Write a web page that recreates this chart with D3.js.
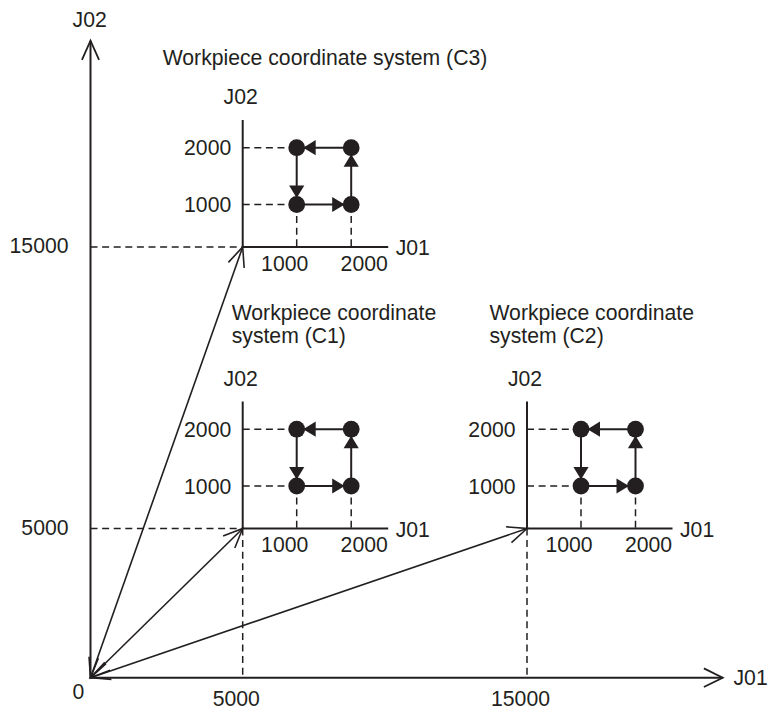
<!DOCTYPE html>
<html>
<head>
<meta charset="utf-8">
<script src="https://cdn.jsdelivr.net/npm/d3@7"></script>
<style>
  html, body { margin: 0; padding: 0; background: #fff; }
  svg { display: block; }
  text { font-family: "Liberation Sans", Arial, Helvetica, sans-serif; fill: #231f20; }
</style>
</head>
<body>
<svg id="chart" width="770" height="709"></svg>
<script>
// ---------- data ----------
const mainAxisNames = ["J01", "J02"];
const mainTickValues = [5000, 15000];
const systemNames = ["C1", "C2", "C3"];
const systemOriginJ01 = [5000, 15000, 5000];
const systemOriginJ02 = [5000, 5000, 15000];
const systemTitles = [
  ["Workpiece coordinate", "system (C1)"],
  ["Workpiece coordinate", "system (C2)"],
  ["Workpiece coordinate system (C3)"]
];
const localTickValues = [1000, 2000];
// motion path inside each workpiece system (closed loop)
const pathJ01 = [2000, 2000, 1000, 1000];
const pathJ02 = [1000, 2000, 2000, 1000];

// ---------- layout ----------
const ink = "#231f20";
const fontSize = 21.2;
const titleOffsets = [ { dx: -11, dy: -208.5 }, { dx: -37.5, dy: -208.5 }, { dx: -80, dy: -181.7 } ];

const svg = d3.select("#chart");
const x = d3.scaleLinear().domain([0, 5000, 15000]).range([90.5, 242.7, 527]);
const y = d3.scaleLinear().domain([0, 5000, 15000]).range([677.7, 528.5, 247]);
const lx = d3.scaleLinear().domain([0, 1000, 2000]).range([0, 54, 108.5]);
const ly = d3.scaleLinear().domain([0, 1000, 2000]).range([0, -42.5, -99.3]);

const ox = x(0), oy = y(0);

function chevron(g, x1, y1, x2, y2, len, half, width) {
  const a = Math.atan2(y1 - y2, x1 - x2);
  const pts = [a - half, a + half].map(t => [x2 + len * Math.cos(t), y2 + len * Math.sin(t)]);
  g.append("path")
    .attr("d", `M${pts[0][0]},${pts[0][1]}L${x2},${y2}L${pts[1][0]},${pts[1][1]}`)
    .attr("fill", "none").attr("stroke", ink).attr("stroke-width", width)
    .attr("stroke-linejoin", "miter");
}

const dash = "7,4.6";

// ---------- main dashed guides ----------
const guides = svg.append("g").attr("stroke", ink).attr("stroke-width", 1.5).attr("stroke-dasharray", dash);
systemNames.forEach((n, i) => {
  const px = x(systemOriginJ01[i]), py = y(systemOriginJ02[i]);
  if (systemOriginJ01[i] === 5000) {
    guides.append("line").attr("x1", ox).attr("y1", py).attr("x2", px).attr("y2", py);
  }
  if (systemOriginJ02[i] === 5000) {
    guides.append("line").attr("x1", px).attr("y1", py).attr("x2", px).attr("y2", oy);
  }
});

// ---------- main axes ----------
const axes = svg.append("g");
axes.append("line").attr("x1", ox).attr("y1", oy).attr("x2", ox + 632.2).attr("y2", oy)
  .attr("stroke", ink).attr("stroke-width", 2);
axes.append("line").attr("x1", ox).attr("y1", oy).attr("x2", ox).attr("y2", 40.7)
  .attr("stroke", ink).attr("stroke-width", 2);
chevron(axes, ox, oy, ox + 632.2, oy, 21, 0.46, 1.8);
chevron(axes, ox, oy, ox, 40.7, 21, 0.42, 1.8);

axes.append("text").attr("x", ox + 643).attr("y", oy + 7.5)
  .attr("font-size", fontSize).text(mainAxisNames[0]);
axes.append("text").attr("x", ox - 0.8).attr("y", 27)
  .attr("text-anchor", "middle").attr("font-size", fontSize).text(mainAxisNames[1]);

axes.append("text").attr("x", x(0) - 12).attr("y", oy + 21.5)
  .attr("text-anchor", "middle").attr("font-size", fontSize).text("0");
mainTickValues.forEach(v => {
  axes.append("text").attr("x", x(v) - 6.5).attr("y", oy + 28.5)
    .attr("text-anchor", "middle").attr("font-size", fontSize).text(v);
  axes.append("text").attr("x", 68.5).attr("y", y(v) + 6)
    .attr("text-anchor", "end").attr("font-size", fontSize).text(v);
});

// ---------- vectors from origin ----------
const vecs = svg.append("g");
systemNames.forEach((n, i) => {
  const px = x(systemOriginJ01[i]), py = y(systemOriginJ02[i]);
  vecs.append("line").attr("x1", ox).attr("y1", oy).attr("x2", px).attr("y2", py)
    .attr("stroke", ink).attr("stroke-width", 1.6);
  chevron(vecs, ox, oy, px, py, 21, 0.41, 1.6);
  chevron(vecs, px, py, ox, oy, 21, 0.41, 1.6);
});

// ---------- workpiece systems ----------
systemNames.forEach((n, i) => {
  const px = x(systemOriginJ01[i]), py = y(systemOriginJ02[i]);
  const g = svg.append("g").attr("transform", `translate(${px},${py})`);

  const dg = g.append("g").attr("stroke", ink).attr("stroke-width", 1.5).attr("stroke-dasharray", dash);
  localTickValues.forEach(v => {
    dg.append("line").attr("x1", 0).attr("y1", ly(v)).attr("x2", lx(1000)).attr("y2", ly(v));
    dg.append("line").attr("x1", lx(v)).attr("y1", ly(1000)).attr("x2", lx(v)).attr("y2", 0);
  });

  g.append("line").attr("x1", 0).attr("y1", 0).attr("x2", 145.5).attr("y2", 0)
    .attr("stroke", ink).attr("stroke-width", 2);
  g.append("line").attr("x1", 0).attr("y1", 0).attr("x2", 0).attr("y2", -127)
    .attr("stroke", ink).attr("stroke-width", 2);
  g.append("text").attr("x", 153).attr("y", 8).attr("font-size", fontSize).text(mainAxisNames[0]);
  g.append("text").attr("x", -2).attr("y", -143).attr("text-anchor", "middle")
    .attr("font-size", fontSize).text(mainAxisNames[1]);

  const xOff = [-12, 13];
  localTickValues.forEach((v, k) => {
    g.append("text").attr("x", lx(v) + xOff[k]).attr("y", 23.5).attr("text-anchor", "middle")
      .attr("font-size", fontSize).text(v);
    g.append("text").attr("x", -11.5).attr("y", ly(v) + 7.5).attr("text-anchor", "end")
      .attr("font-size", fontSize).text(v);
  });

  const m = pathJ01.length;
  for (let k = 0; k < m; k++) {
    const x1 = lx(pathJ01[k]), y1 = ly(pathJ02[k]);
    const x2 = lx(pathJ01[(k + 1) % m]), y2 = ly(pathJ02[(k + 1) % m]);
    g.append("line").attr("x1", x1).attr("y1", y1).attr("x2", x2).attr("y2", y2)
      .attr("stroke", ink).attr("stroke-width", 2);
  }
  for (let k = 0; k < m; k++) {
    g.append("circle").attr("cx", lx(pathJ01[k])).attr("cy", ly(pathJ02[k])).attr("r", 8.4).attr("fill", ink);
  }
  for (let k = 0; k < m; k++) {
    const x1 = lx(pathJ01[k]), y1 = ly(pathJ02[k]);
    const x2 = lx(pathJ01[(k + 1) % m]), y2 = ly(pathJ02[(k + 1) % m]);
    const L = Math.hypot(x2 - x1, y2 - y1);
    const ux = (x2 - x1) / L, uy = (y2 - y1) / L;
    const tipX = x2 - ux * 6.5, tipY = y2 - uy * 6.5;
    const bX = x2 - ux * 19, bY = y2 - uy * 19;
    const w = 7.6;
    g.append("path")
      .attr("d", `M${tipX},${tipY}L${bX - uy * w},${bY + ux * w}L${bX + uy * w},${bY - ux * w}Z`)
      .attr("fill", ink);
  }

  const t = svg.append("text").attr("font-size", fontSize)
    .attr("x", px + titleOffsets[i].dx).attr("y", py + titleOffsets[i].dy);
  systemTitles[i].forEach((line, k) => {
    t.append("tspan").attr("x", px + titleOffsets[i].dx).attr("dy", k === 0 ? 0 : 23).text(line);
  });
});
</script>
</body>
</html>
